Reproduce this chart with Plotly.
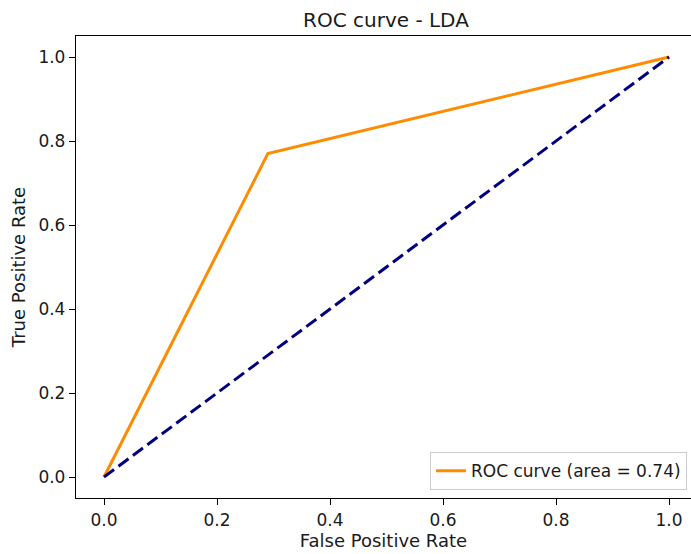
import plotly.graph_objects as go

fpr = [0.0, 0.29, 1.0]
tpr = [0.0, 0.77, 1.0]
diag_x = [0.0, 1.0]
diag_y = [0.0, 1.0]
roc_auc = 0.74
ticks = [0.0, 0.2, 0.4, 0.6, 0.8, 1.0]
tick_text = ["0.0", "0.2", "0.4", "0.6", "0.8", "1.0"]

font = "DejaVu Sans"
txt = "#1a1a1a"

fig = go.Figure()
fig.add_trace(go.Scatter(x=fpr, y=tpr, mode="lines",
                         line=dict(color="#ff8c00", width=3.0),
                         name=f"ROC curve (area = {roc_auc:.2f})"))
fig.add_trace(go.Scatter(x=diag_x, y=diag_y, mode="lines",
                         line=dict(color="#000080", width=3.0, dash="12.5px,5.5px"),
                         showlegend=False))

fig.update_layout(
    width=691, height=554,
    margin=dict(l=76, r=0, t=36, b=56),
    paper_bgcolor="white", plot_bgcolor="white",
    font=dict(family=font, size=17, color=txt),
    title=dict(text="ROC curve - LDA", x=0.504, xref="paper", xanchor="center",
               y=1 - 20 / 554, yanchor="middle",
               font=dict(size=20, family=font, color=txt)),
    legend=dict(x=0.9935, y=0.017, xanchor="right", yanchor="bottom",
                bgcolor="rgba(255,255,255,0.8)", bordercolor="#cccccc", borderwidth=1,
                font=dict(size=17, family=font, color=txt)),
    showlegend=True,
)
fig.update_xaxes(range=[-0.0496, 1.0389], tickvals=ticks, ticktext=tick_text,
                 showgrid=False, zeroline=False, showline=True, linecolor="black",
                 linewidth=1.3, mirror=True, ticks="outside", ticklen=6, tickwidth=1.3,
                 tickcolor="black",
                 title=dict(text="False Positive Rate", standoff=2,
                            font=dict(size=18, family=font, color=txt)))
fig.update_yaxes(range=[-0.05, 1.05], tickvals=ticks, ticktext=tick_text,
                 showgrid=False, zeroline=False, showline=True, linecolor="black",
                 linewidth=1.3, mirror=False, ticks="outside", ticklen=6, tickwidth=1.3,
                 tickcolor="black",
                 title=dict(text="True Positive Rate", standoff=8,
                            font=dict(size=18, family=font, color=txt)))

fig.write_html("out.html")
